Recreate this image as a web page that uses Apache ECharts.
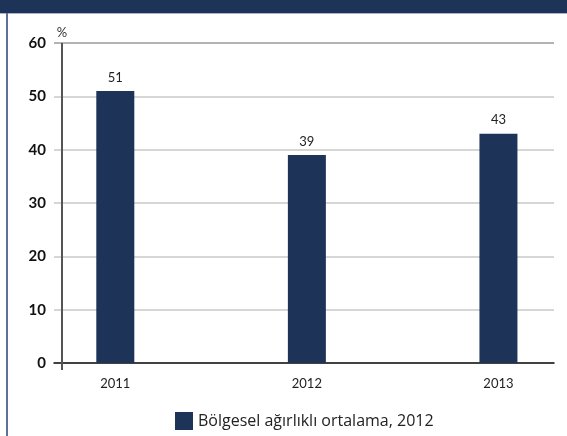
<!DOCTYPE html>
<html>
<head>
<meta charset="utf-8">
<script src="https://cdn.jsdelivr.net/npm/echarts@6/dist/echarts.min.js"></script>
<style>
  html, body { margin: 0; padding: 0; background: #fff; }
  #chart { width: 567px; height: 436px; }
</style>
</head>
<body>
<div id="chart"></div>
<script>
// kategoriler ve değerler
const years = ["2011", "2012", "2013"];
const values = [51, 39, 43];
const yTicks = [0, 10, 20, 30, 40, 50, 60];
const legendName = "Bölgesel ağırlıklı ortalama, 2012";

const navy = "#1e3358";
const xMin = -0.32;
const xMax = 2.29;
const gridLeft = 54;
const gridRight = 13;
const gridTop = 43;
const gridBottom = 73;
const plotWidth = 567 - gridLeft - gridRight;
// y ekseni çizgisi, ızgaranın sol kenarından 8px içeride
const axisShift = 8;
const axisValue = xMin + (axisShift / plotWidth) * (xMax - xMin);

const myChart = echarts.init(document.getElementById("chart"));

const option = {
  animation: false,
  textStyle: { fontFamily: "Lato, 'Open Sans', sans-serif" },
  graphic: [
    {
      type: "rect",
      shape: { x: 0, y: 0, width: 567, height: 13 },
      style: { fill: navy },
    },
    {
      type: "rect",
      shape: { x: 0, y: 13, width: 567, height: 1 },
      style: { fill: "#aab4c8" },
    },
    {
      type: "rect",
      shape: { x: 6, y: 13, width: 2, height: 423 },
      style: { fill: "#5d7199" },
    },
    {
      // dikey eksen çizgisi
      type: "rect",
      z: 100,
      shape: { x: gridLeft + axisShift - 1, y: gridTop, width: 2, height: 436 - gridTop - gridBottom },
      style: { fill: "#555" },
    },
  ],
  grid: {
    left: gridLeft,
    right: gridRight,
    top: gridTop,
    bottom: gridBottom,
  },
  legend: {
    left: 170,
    top: 407,
    itemWidth: 18,
    itemHeight: 18,
    itemGap: 8,
    icon: "rect",
    textStyle: { fontSize: 16, color: "#222", fontFamily: "'Open Sans', sans-serif" },
    data: [legendName],
  },
  xAxis: {
    type: "value",
    min: xMin,
    max: xMax,
    splitLine: { show: false },
    axisLine: { onZero: false, lineStyle: { color: "#111", width: 1.5 } },
    axisTick: {
      show: true,
      customValues: [axisValue],
      length: 7,
      lineStyle: { color: "#555", width: 2 },
    },
    axisLabel: {
      customValues: [0, 1, 2],
      formatter: v => years[Math.round(v)],
      fontSize: 13,
      color: "#222",
      margin: 14,
    },
  },
  yAxis: {
    type: "value",
    min: 0,
    max: 60,
    interval: 10,
    name: "%",
    nameLocation: "end",
    nameGap: 4,
    nameTextStyle: { fontSize: 13, color: "#333", align: "center", padding: [0, 0, 0, 2 * axisShift] },
    axisLine: { show: false, onZero: false },
    axisTick: { show: false },
    axisLabel: {
      formatter: v => (yTicks.includes(v) ? String(v) : ""),
      fontSize: 15,
      fontWeight: "bold",
      color: "#111",
      margin: 8,
    },
    splitLine: {
      show: true,
      lineStyle: {
        color: ["#c8c8c8", "#c8c8c8", "#c8c8c8", "#c8c8c8", "#c8c8c8", "#c8c8c8", "#9a9a9a"],
        width: 1.5,
      },
    },
  },
  series: [
    {
      name: legendName,
      type: "bar",
      barWidth: 38,
      data: values.map((v, i) => [i, v]),
      itemStyle: { color: navy },
      label: {
        show: true,
        position: "top",
        distance: 7,
        fontSize: 13,
        color: "#222",
      },
    },
  ],
};

myChart.setOption(option);
</script>
</body>
</html>
